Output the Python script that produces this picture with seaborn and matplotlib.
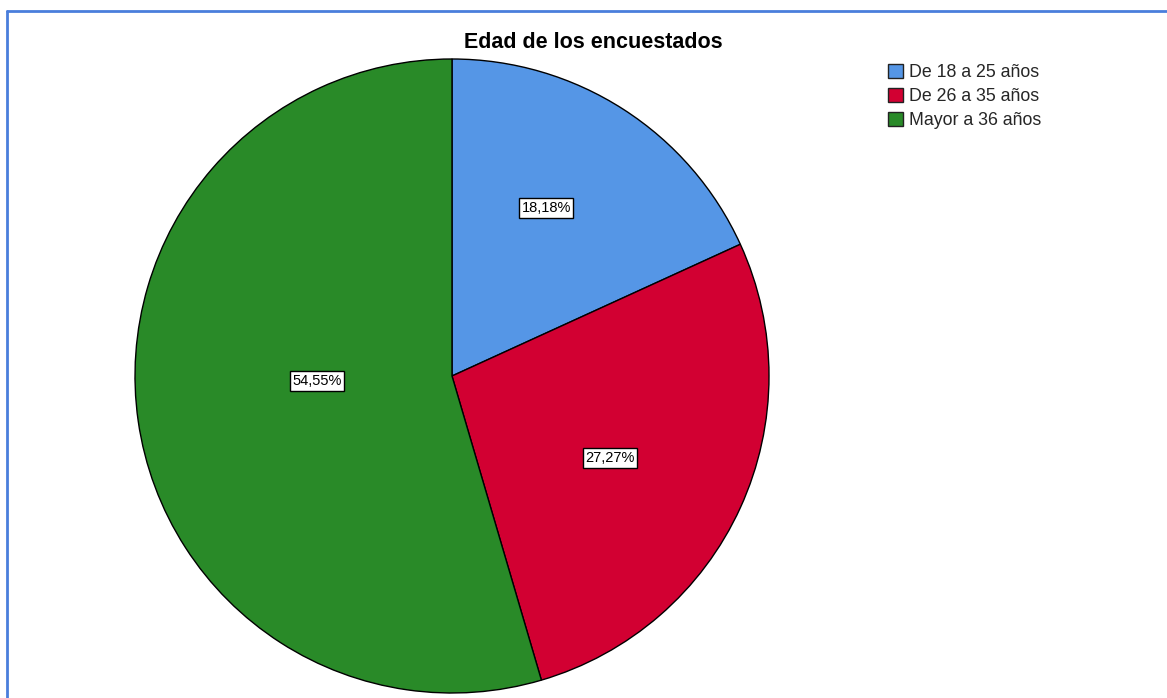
import matplotlib
matplotlib.use("Agg")
import matplotlib.pyplot as plt
from matplotlib.lines import Line2D
from matplotlib.patches import Patch
import seaborn as sns

# Survey respondents by age group (percent of total)
categories = ["De 18 a 25 años", "De 26 a 35 años", "Mayor a 36 años"]
percentages = [18.18, 27.27, 54.55]
value_labels = ["18,18%", "27,27%", "54,55%"]

sns.set_theme(style="white")
plt.rcParams["font.family"] = ["Liberation Sans", "DejaVu Sans"]

palette = sns.color_palette(["#5596E6", "#D20032", "#298A28"])

fig = plt.figure(figsize=(11.67, 6.98), dpi=100)
fig.patch.set_facecolor("white")

W, H = 1167, 698
cx, cy, r = 452, 376, 317
ax = fig.add_axes([(cx - r) / W, (H - cy - r) / H, 2 * r / W, 2 * r / H])

wedges, _ = ax.pie(
    percentages,
    colors=palette,
    startangle=90,
    counterclock=False,
    radius=1.0,
    wedgeprops=dict(edgecolor="black", linewidth=1.0),
)
ax.set_xlim(-1, 1)
ax.set_ylim(-1, 1)
ax.set_aspect("equal")
ax.axis("off")

# Value labels inside each slice (axes-data offsets from the pie centre)
label_pos = [(0.297, 0.530), (0.498, -0.259), (-0.426, -0.016)]
for (x, y), txt in zip(label_pos, value_labels):
    ax.text(x, y, txt, ha="center", va="center", fontsize=10.5, color="black",
            bbox=dict(boxstyle="square,pad=0.18", facecolor="white",
                      edgecolor="black", linewidth=1.0))

fig.text(593 / W, 1 - 43 / H, "Edad de los encuestados", ha="center",
         va="center", fontsize=15.5, fontweight="bold", color="black")

handles = [Patch(facecolor=c, edgecolor="#222222", linewidth=1.0) for c in palette]
fig.legend(handles, categories, loc="upper left",
           bbox_to_anchor=(888 / W, 1 - 64 / H), frameon=False,
           fontsize=12.8, handlelength=0.85, handleheight=0.85,
           handletextpad=0.35, labelspacing=0.37, borderaxespad=0,
           borderpad=0)

# Thin blue frame along the top and left edges
border = "#4A7EDC"
fig.add_artist(Line2D([6.5 / W, 1.0], [1 - 10.5 / H, 1 - 10.5 / H],
                      transform=fig.transFigure, color=border, linewidth=2))
fig.add_artist(Line2D([6.5 / W, 6.5 / W], [0.0, 1 - 10.5 / H],
                      transform=fig.transFigure, color=border, linewidth=2))

fig.savefig("out.png", dpi=100, facecolor="white")
